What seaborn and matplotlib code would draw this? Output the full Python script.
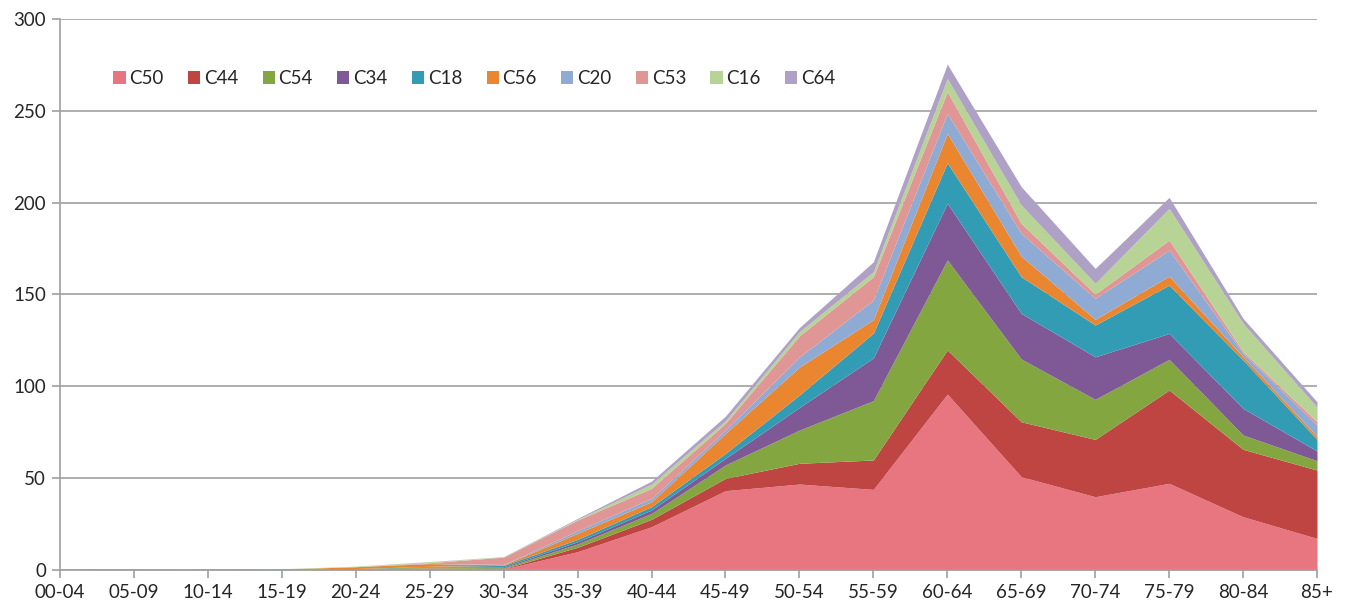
import numpy as np
import pandas as pd
import seaborn as sns
import matplotlib.pyplot as plt
from matplotlib.patches import Patch

# Age groups along the x axis
ages = ["00-04", "05-09", "10-14", "15-19", "20-24", "25-29", "30-34", "35-39", "40-44",
        "45-49", "50-54", "55-59", "60-64", "65-69", "70-74", "75-79", "80-84", "85+"]

# Series values (stacked in this order, bottom to top)
c50 = [0, 0, 0, 0, 0.3, 1.0, 0.5, 10.0, 23.6, 43.2, 46.8, 43.9, 95.8, 50.8, 39.9, 47.2, 29.0, 17.2]
c44 = [0, 0, 0, 0, 0, 0.2, 0.2, 2.4, 4.0, 6.7, 11.3, 16.0, 24.0, 29.9, 31.2, 50.8, 36.7, 37.2]
c54 = [0, 0, 0, 0, 0.5, 0.3, 0.5, 1.8, 3.2, 7.3, 18.1, 32.3, 49.0, 34.2, 21.8, 16.7, 7.8, 5.1]
c34 = [0, 0, 0, 0, 0, 0.1, 0.5, 1.2, 1.9, 3.6, 12.3, 23.3, 30.9, 24.8, 23.2, 14.1, 14.5, 5.3]
c18 = [0, 0, 0, 0.5, 0, 0.4, 0.8, 1.3, 1.8, 2.7, 6.8, 13.5, 22.0, 20.0, 17.3, 26.3, 26.3, 6.3]
c56 = [0, 0, 0, 0, 1.0, 1.5, 0.3, 3.3, 2.7, 10.9, 15.2, 7.3, 16.0, 11.2, 3.1, 4.9, 1.8, 1.5]
c20 = [0, 0, 0, 0, 0, 0.2, 0.2, 1.4, 1.8, 1.8, 5.5, 10.7, 10.9, 12.4, 11.4, 14.2, 1.9, 6.3]
c53 = [0, 0, 0.3, 0, 0, 0.3, 4.0, 5.8, 5.5, 3.7, 11.5, 12.7, 11.8, 5.4, 2.3, 5.4, 0.9, 1.8]
c16 = [0, 0, 0, 0.2, 0.3, 0.5, 0.2, 0.4, 2.3, 1.4, 2.3, 2.7, 7.2, 10.0, 5.9, 17.3, 15.4, 7.9]
c64 = [0, 0.5, 0, 0, 0, 0.1, 0.1, 0.5, 1.6, 2.5, 2.2, 5.4, 7.8, 10.0, 8.1, 6.0, 2.7, 3.0]

series = ["C50", "C44", "C54", "C34", "C18", "C56", "C20", "C53", "C16", "C64"]
colors = ["#E87681", "#BE4542", "#83A641", "#7E5996", "#339CB5",
          "#EA8630", "#8FABD4", "#E09695", "#B8D396", "#AFA0C5"]

df = pd.DataFrame({"age": ages, "C50": c50, "C44": c44, "C54": c54, "C34": c34,
                   "C18": c18, "C56": c56, "C20": c20, "C53": c53, "C16": c16, "C64": c64})

sns.set_style("white")
plt.rcParams["font.family"] = ["Lato", "DejaVu Sans"]

fig = plt.figure(figsize=(13.46, 6.08), dpi=100)
ax = fig.add_axes([60 / 1346, 38 / 608, 1257 / 1346, 551 / 608])

x = np.arange(len(ages))
ax.stackplot(x, [df[s] for s in series], colors=colors, labels=series, linewidth=0)

ax.set_xlim(0, len(ages) - 1)
ax.set_ylim(0, 300)
ax.set_yticks(range(0, 301, 50))
ax.set_xticks(x)
ax.set_xticklabels(ages)

ax.yaxis.grid(True, color="#A0A0A0", linewidth=1.2)
ax.set_axisbelow(True)
for side in ["top", "right"]:
    ax.spines[side].set_visible(False)
for side in ["left", "bottom"]:
    ax.spines[side].set_color("#A0A0A0")
    ax.spines[side].set_linewidth(1.2)
ax.tick_params(axis="both", which="both", direction="out", length=6, width=1.2,
               color="#A0A0A0", labelsize=13.5, pad=4, left=True, bottom=True)

handles = [Patch(facecolor=c, edgecolor="none", label=s) for s, c in zip(series, colors)]
ax.legend(handles=handles, loc="center left", bbox_to_anchor=(0.029, 0.892), ncol=10,
          frameon=False, fontsize=13.5, handlelength=0.65, handleheight=0.65,
          handletextpad=0.2, columnspacing=1.3)

fig.savefig("out.png", dpi=100)
